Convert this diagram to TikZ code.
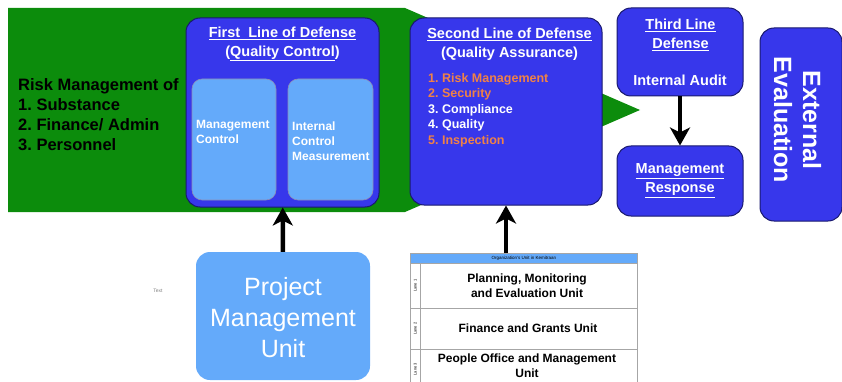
\documentclass[tikz,border=0pt]{standalone}
\usepackage{fontspec}
\setmainfont{Liberation Sans}
\frenchspacing
\usetikzlibrary{arrows.meta}
\definecolor{bannergreen}{RGB}{12,140,12}
\definecolor{lineblue}{RGB}{55,55,235}
\definecolor{lineedge}{RGB}{25,25,110}
\definecolor{paleblue}{RGB}{100,170,250}
\definecolor{riskorange}{RGB}{240,130,70}
\tikzset{
  linebox/.style={draw=lineedge, line width=1pt, fill=lineblue, rounded corners=14pt, inner sep=0pt},
  subbox/.style={draw=lineedge!50, line width=0.6pt, fill=paleblue, rounded corners=10pt, inner sep=0pt},
  title/.style={text=white, font=\fontsize{14.5}{19}\selectfont\bfseries, align=center, inner sep=0pt},
  subtext/.style={text=white, font=\fontsize{12}{15}\selectfont\bfseries, align=left, inner sep=0pt},
  rowtext/.style={font=\fontsize{12}{15}\selectfont\bfseries, align=center, inner sep=0pt},
  lanecell/.style={draw=gray!70, line width=0.6pt, inner sep=0pt, anchor=north west},
  lanelabel/.style={rotate=90, font=\fontsize{4}{4}\selectfont, inner sep=0pt},
  bigarrow/.style={line width=4.5pt, -{Stealth[length=18pt,width=20pt,inset=5pt]}},
}
\begin{document}
\begin{tikzpicture}[x=1pt, y=-1pt]
	\useasboundingbox (0,0) rectangle (842,382);
	% green banner behind the first two lines
	\fill[bannergreen] (8,8) -- (405,8) -- (640,110) -- (405,212) -- (8,212) -- cycle;
	\node[anchor=west, align=left, inner sep=0pt, font=\fontsize{16.5}{20}\selectfont\bfseries] (riskof) at (18,115)
		{Risk Management of\\1. Substance\\2. Finance/ Admin\\3. Personnel};

	\node[linebox, minimum width=193, minimum height=189] (first) at (282.5,112.5) {};
	\node[title] (firsttitle) at (282.5,44) {\underline{First\ \ Line of Defense}\\(\underline{Quality Control})};
	\node[subbox, minimum width=84, minimum height=121] (mgmtctl) at (234,139.5) {};
	\node[subtext, anchor=west] (mgmtctltext) at (196,132) {Management\\Control};
	\node[subbox, minimum width=85, minimum height=121] (icm) at (330.5,139.5) {};
	\node[subtext, anchor=west] (icmtext) at (292,141) {Internal\\Control\\Measurement};

	\node[linebox, minimum width=192, minimum height=187] (second) at (506,111.5) {};
	\node[title] (secondtitle) at (509.5,44) {\underline{Second Line of Defense}\\(Quality Assurance)};
	\node[subtext, anchor=north west, font=\fontsize{12.5}{15.5}\selectfont\bfseries] (secondlist) at (428,73)
		{\textcolor{riskorange}{1. Risk Management}\\\textcolor{riskorange}{2. Security}\\3. Compliance\\4. Quality\\\textcolor{riskorange}{5. Inspection}};

	\node[linebox, minimum width=126, minimum height=88] (third) at (680,52) {};
	\node[title] (thirdtitle) at (680.5,35) {\underline{Third Line}\\\underline{Defense}};
	\node[title] (audit) at (680,80) {Internal Audit};
	\node[linebox, minimum width=126, minimum height=70] (response) at (680,181) {};
	\node[title] (responsetext) at (680,181) {\underline{Management}\\\underline{Response}};
	\draw[bigarrow] (third) -- (response);

	\node[linebox, minimum width=82, minimum height=193] (external) at (801,124.5) {};
	\node[text=white, rotate=-90, align=center, inner sep=0pt, font=\fontsize{25}{29}\selectfont\bfseries] (externaltext) at (797.5,120)
		{External\\Evaluation};

	\node[fill=paleblue, rounded corners=14pt, minimum width=174, minimum height=128, inner sep=0pt] (pmu) at (283,316) {};
	\node[text=white, align=center, inner sep=0pt, font=\fontsize{25}{31}\selectfont] (pmutext) at (283,318)
		{Project\\Management\\Unit};
	\node[text=gray, font=\fontsize{5}{5}\selectfont, inner sep=0pt] (dummy) at (158,291) {Text};
	\draw[bigarrow] (pmu) -- (first);

	% swimlane table
	\node[lanecell, fill=paleblue, minimum width=227, minimum height=10] (header) at (410,253)
		{\fontsize{4.5}{5}\selectfont Organization's Unit in Kemitraan};
	\node[lanecell, minimum width=10, minimum height=45] (lane1) at (410,263) {};
	\node[lanecell, minimum width=217, minimum height=45] (row1) at (420,263) {};
	\node[lanecell, minimum width=10, minimum height=41] (lane2) at (410,308) {};
	\node[lanecell, minimum width=217, minimum height=41] (row2) at (420,308) {};
	\node[lanecell, minimum width=10, minimum height=40] (lane3) at (410,349) {};
	\node[lanecell, minimum width=217, minimum height=40] (row3) at (420,349) {};
	\node[lanelabel] (lane1text) at (lane1) {Lane 1};
	\node[lanelabel] (lane2text) at (lane2) {Lane 2};
	\node[lanelabel] (lane3text) at (lane3) {Lane 3};
	\node[rowtext] (pme) at (527,286) {Planning, Monitoring\\and Evaluation Unit};
	\node[rowtext] (fgu) at (528,328) {Finance and Grants Unit};
	\node[rowtext] (pom) at (527,366) {People Office and Management\\Unit};
	\draw[bigarrow] (header.north -| second) -- (second);
\end{tikzpicture}
\end{document}
